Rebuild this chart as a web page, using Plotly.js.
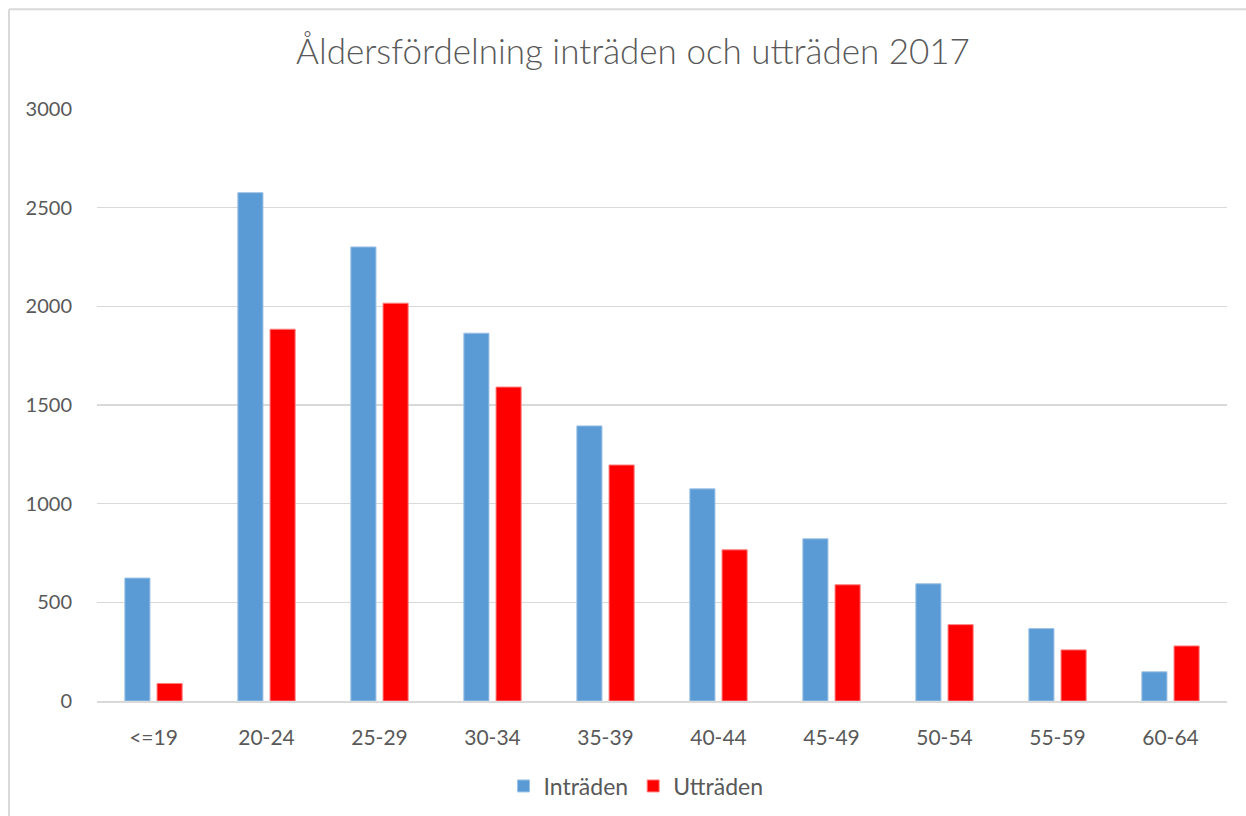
<!DOCTYPE html>
<html>
<head>
<meta charset="utf-8">
<script src="https://cdn.plot.ly/plotly-3.0.1.min.js"></script>
<style>
html,body{margin:0;padding:0;background:#fff;}
#chart{width:1246px;height:816px;}
</style>
</head>
<body>
<div id="chart"></div>
<script>
const categories = ["<=19","20-24","25-29","30-34","35-39","40-44","45-49","50-54","55-59","60-64"];
const intraden = [623, 2576, 2301, 1864, 1394, 1075, 822, 594, 367, 148];
const uttraden = [89, 1884, 2016, 1591, 1196, 766, 589, 387, 259, 279];
const yTicks = [0, 500, 1000, 1500, 2000, 2500, 3000];

const traces = [
  {type:'bar', name:'Inträden', x:categories, y:intraden,
   marker:{color:'#5B9BD5', line:{color:'#9DC3E6', width:1}}},
  {type:'bar', name:'Utträden', x:categories, y:uttraden,
   marker:{color:'#FF0000', line:{color:'#FF8080', width:1}}}
];

const layout = {
  width:1246, height:816,
  paper_bgcolor:'#fff', plot_bgcolor:'#fff',
  margin:{l:97, r:19, t:108.5, b:114.5},
  barmode:'group', bargap:0.43, bargroupgap:0.22,
  font:{family:'Lato, sans-serif', color:'#595959'},
  title:{text:'Åldersfördelning inträden och utträden 2017',
         font:{size:35, color:'#595959', family:'Lato, sans-serif', weight:300},
         x:633/1246, xanchor:'center', y:1-52/816, yanchor:'middle'},
  xaxis:{type:'category', tickfont:{size:21, color:'#595959'},
         showline:true, linecolor:'#d9d9d9', linewidth:1.5,
         ticks:'', ticklabelstandoff:17, fixedrange:true},
  yaxis:{range:[0,3000], tickvals:yTicks, ticktext:yTicks.map(String),
         tickfont:{size:20, color:'#595959'},
         showgrid:true, gridcolor:'#d9d9d9', gridwidth:1.5,
         zeroline:false, showline:false, ticks:'', ticklabelstandoff:24},
  legend:{orientation:'h', xref:'container', yref:'container',
          x:636/1246, xanchor:'center', y:1-786/816, yanchor:'middle',
          font:{size:23, color:'#595959'}, itemwidth:30, traceorder:'normal'},
  shapes:[
    {type:'line', xref:'paper', yref:'paper', x0:-88/1130, x1:1.2, y0:1+100/592.9, y1:1+100/592.9,
     line:{color:'#d9d9d9', width:2}},
    {type:'line', xref:'paper', yref:'paper', x0:-88/1130, x1:-88/1130, y0:1+100/592.9, y1:-0.3,
     line:{color:'#d9d9d9', width:2}}
  ]
};

Plotly.newPlot('chart', traces, layout, {displayModeBar:false, staticPlot:true});
</script>
</body>
</html>
